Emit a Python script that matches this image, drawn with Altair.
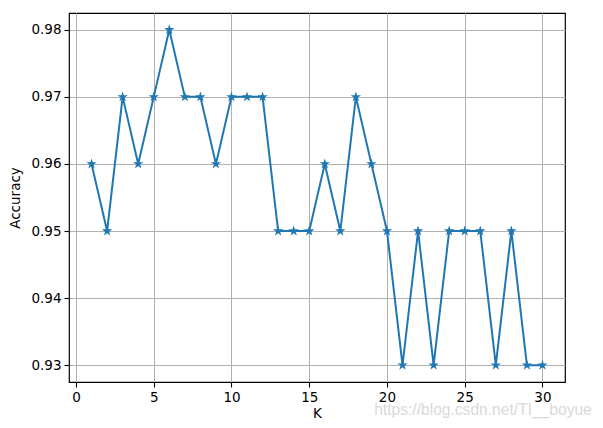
import altair as alt
import pandas as pd

k_values = list(range(1, 31))
accuracy = [0.96, 0.95, 0.97, 0.96, 0.97, 0.98, 0.97, 0.97, 0.96, 0.97,
            0.97, 0.97, 0.95, 0.95, 0.95, 0.96, 0.95, 0.97, 0.96, 0.95,
            0.93, 0.95, 0.93, 0.95, 0.95, 0.95, 0.93, 0.95, 0.93, 0.93]
x_ticks = [0, 5, 10, 15, 20, 25, 30]
y_ticks = [0.93, 0.94, 0.95, 0.96, 0.97, 0.98]
watermark = "https://blog.csdn.net/TI__boyue"

df = pd.DataFrame({"K": k_values, "Accuracy": accuracy})

STAR = ("M0,-1 L0.225,-0.309 L0.951,-0.309 L0.363,0.118 L0.588,0.809 "
        "L0,0.382 L-0.588,0.809 L-0.363,0.118 L-0.951,-0.309 L-0.225,-0.309 Z")

FONT = "DejaVu Sans"
x_enc = alt.X("K:Q", scale=alt.Scale(domain=[-0.45, 31.45], nice=False, zero=False),
              axis=alt.Axis(values=x_ticks, title="K", format="d"))
y_enc = alt.Y("Accuracy:Q", scale=alt.Scale(domain=[0.9275, 0.9825], nice=False, zero=False),
              axis=alt.Axis(values=y_ticks, title="Accuracy", format=".2f"))

base = alt.Chart(df)
line = base.mark_line(color="#1f77b4", strokeWidth=2).encode(x=x_enc, y=y_enc)
pts = base.mark_point(shape=STAR, filled=True, color="#1f77b4", size=120, opacity=1).encode(x=x_enc, y=y_enc)

wm = alt.Chart(pd.DataFrame({"t": [watermark]})).mark_text(
    font="Liberation Sans", fontSize=15.6, color="#d9d9d9", align="center", baseline="alphabetic"
).encode(text="t:N", x=alt.value(414), y=alt.value(402))

chart = alt.layer(line, pts, wm).properties(
    width=496, height=369,
    autosize=alt.AutoSizeParams(type="none"),
    padding={"left": 61, "top": 5, "right": 30, "bottom": 38},
).configure_view(
    stroke="black", strokeWidth=1.2
).configure_axis(
    labelFont=FONT, titleFont=FONT, labelFontSize=13.5, titleFontSize=13.5,
    titleFontWeight="normal", labelColor="black", titleColor="black",
    grid=True, gridColor="#b0b0b0", gridWidth=1, gridOpacity=1,
    domain=False, tickColor="black", tickSize=5, tickWidth=1.1,
    labelPadding=3, labelFlush=False, labelOverlap=False,
).configure_axisX(titlePadding=3).configure_axisY(titlePadding=8)

chart.save("out.html", embed_options={"renderer": "svg", "actions": False})
